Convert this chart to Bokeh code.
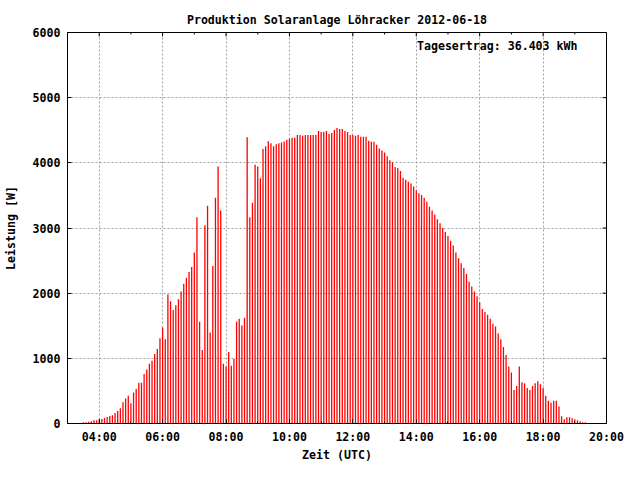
import pandas as pd
from bokeh.plotting import figure
from bokeh.models import (Range1d, FixedTicker, DatetimeTickFormatter, Label, ColumnDataSource)
from bokeh.embed import file_html
from bokeh.resources import INLINE

title_text = "Produktion Solaranlage Löhracker 2012-06-18"
yield_text = "Tagesertrag: 36.403 kWh"
x_label = "Zeit (UTC)"
y_label = "Leistung [W]"

# 5-minute samples starting 03:30 UTC
start_time = "2012-06-18 03:30"
sample_step = "5min"
power_w = [
    20, 20, 25, 35, 50, 50, 70, 70, 85, 100, 115, 125, 160, 190, 235, 325, 385, 425, 310, 475,
    530, 625, 625, 760, 830, 918, 963, 1068, 1143, 1307, 1472, 1292, 1981, 1876, 1741, 1816, 1906, 2026, 2146, 2236,
    2325, 2400, 2625, 3164, 1562, 1128, 3044, 3343, 1397, 2415, 3463, 3942, 3268, 918, 873, 1098, 888, 993, 1562, 1607,
    1502, 1622, 4391, 3164, 3388, 3972, 3942, 3762, 4212, 4256, 4331, 4301, 4256, 4286, 4301, 4312, 4328, 4354, 4369, 4384,
    4384, 4429, 4429, 4414, 4429, 4429, 4429, 4429, 4429, 4489, 4474, 4474, 4489, 4444, 4459, 4504, 4534, 4519, 4519, 4489,
    4474, 4429, 4429, 4414, 4429, 4399, 4399, 4399, 4339, 4324, 4324, 4279, 4219, 4190, 4160, 4100, 4040, 4010, 3935, 3920,
    3875, 3771, 3741, 3711, 3681, 3636, 3580, 3535, 3508, 3463, 3403, 3328, 3268, 3209, 3134, 3074, 2999, 2939, 2879, 2804,
    2730, 2625, 2535, 2460, 2385, 2295, 2176, 2101, 2026, 1951, 1861, 1756, 1712, 1667, 1607, 1532, 1487, 1382, 1292, 1173,
    1053, 873, 783, 514, 574, 873, 634, 619, 544, 514, 574, 619, 649, 604, 544, 424, 349, 319, 349, 349,
    259, 110, 65, 95, 95, 80, 65, 50, 35, 20, 20,
]

x_start = "2012-06-18 03:00"
x_end = "2012-06-18 20:00"
major_times = ["2012-06-18 %02d:00" % h for h in (4, 6, 8, 10, 12, 14, 16, 18, 20)]
minor_times = ["2012-06-18 %02d:00" % h for h in (3, 5, 7, 9, 11, 13, 15, 17, 19)]
y_ticks = [0, 1000, 2000, 3000, 4000, 5000, 6000]


def ms(t):
    return pd.Timestamp(t).value // 10**6


times = pd.date_range(start_time, periods=len(power_w), freq=sample_step)
src = ColumnDataSource(dict(t=times, p=power_w, z=[0] * len(power_w)))

FONT = "DejaVu Sans Mono"
FS = "11.6px"

W, H = 624, 464
BL, BR, BT, BB = 62, 18, 32, 36
fw, fh = W - BL - BR, H - BT - BB
x0, x1 = ms(x_start), ms(x_end)
y0, y1 = y_ticks[0], y_ticks[-1]

p = figure(width=W, height=H, output_backend="svg", toolbar_location=None,
           x_axis_type="datetime",
           x_range=Range1d(x0, x1), y_range=Range1d(y0, y1),
           min_border_left=BL, min_border_right=BR, min_border_top=BT, min_border_bottom=BB)
p.background_fill_color = "white"
p.border_fill_color = "white"
p.outline_line_color = "black"
p.outline_line_width = 1

p.title.text = title_text
p.title.align = "center"
p.title.text_font = FONT
p.title.text_font_style = "bold"
p.title.text_font_size = FS
p.title.text_color = "black"
p.title.standoff = 12

xt = FixedTicker(ticks=[ms(t) for t in major_times], minor_ticks=[ms(t) for t in minor_times])
yt = FixedTicker(ticks=y_ticks)
fmt = DatetimeTickFormatter(microseconds="%H:%M", milliseconds="%H:%M", seconds="%H:%M",
                            minsec="%H:%M", minutes="%H:%M", hourmin="%H:%M", hours="%H:%M",
                            days="%H:%M", months="%H:%M", years="%H:%M")


def style_axis(ax, minor=True):
    ax.axis_line_color = "black"
    ax.major_tick_in = 4
    ax.major_tick_out = 0
    ax.major_tick_line_color = "black"
    if minor:
        ax.minor_tick_in = 2
        ax.minor_tick_out = 0
        ax.minor_tick_line_color = "black"
    else:
        ax.minor_tick_line_color = None
    ax.major_label_text_font = FONT
    ax.major_label_text_font_style = "bold"
    ax.major_label_text_font_size = FS
    ax.major_label_text_color = "black"
    ax.axis_label_text_font = FONT
    ax.axis_label_text_font_style = "bold"
    ax.axis_label_text_font_size = FS
    ax.axis_label_text_color = "black"


xa = p.xaxis[0]
xa.ticker = xt
xa.formatter = fmt
xa.major_label_standoff = 6
xa.axis_label = x_label
xa.axis_label_standoff = 1
style_axis(xa)

ya = p.yaxis[0]
ya.ticker = yt
ya.major_label_standoff = 7
ya.axis_label = y_label
ya.axis_label_standoff = 12
style_axis(ya, minor=False)

p.xgrid.ticker = xt
p.ygrid.ticker = yt
for g in (p.xgrid[0], p.ygrid[0]):
    g.grid_line_color = "#a0a0a0"
    g.grid_line_dash = "2 2"
    g.grid_line_width = 1

# impulses
p.segment(x0="t", y0="z", x1="t", y1="p", source=src, line_color="#ff0000", line_width=1.3)

# mirrored inward tick marks on top and right border (gnuplot style)
dy_major = 4 * (y1 - y0) / fh
dy_minor = 2 * (y1 - y0) / fh
dx_major = 4 * (x1 - x0) / fw
mt = [ms(t) for t in major_times]
nt = [ms(t) for t in minor_times]
p.segment(x0=mt, x1=mt, y0=[y1] * len(mt), y1=[y1 - dy_major] * len(mt), line_color="black", line_width=1)
p.segment(x0=nt, x1=nt, y0=[y1] * len(nt), y1=[y1 - dy_minor] * len(nt), line_color="black", line_width=1)
p.segment(x0=[x1] * len(y_ticks), x1=[x1 - dx_major] * len(y_ticks), y0=y_ticks, y1=y_ticks,
          line_color="black", line_width=1)

p.add_layout(Label(x=fw - 34, y=fh - 18, x_units="screen", y_units="screen", text=yield_text,
                   text_align="right", text_baseline="middle", text_font=FONT,
                   text_font_style="bold", text_font_size=FS, text_color="black"))

open("out.html", "w").write(file_html(p, INLINE))
